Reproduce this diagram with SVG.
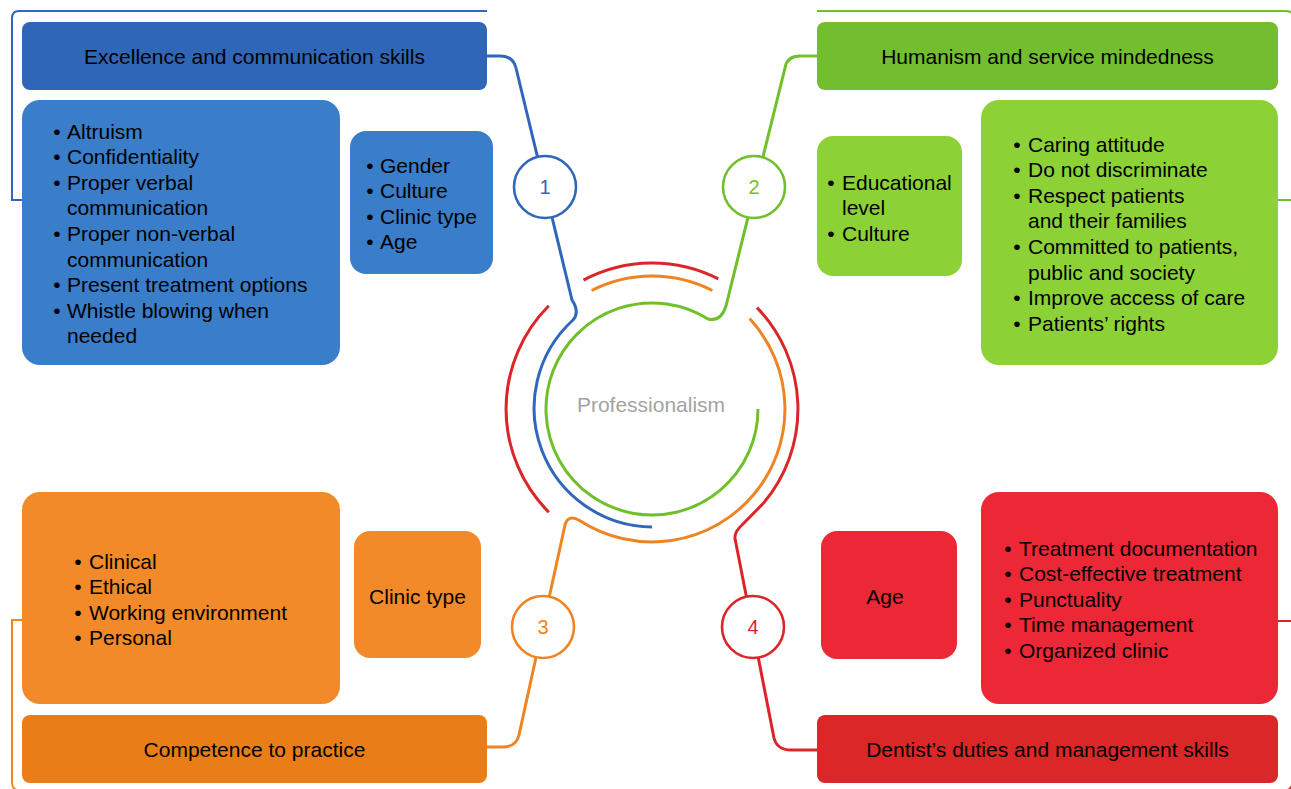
<svg xmlns="http://www.w3.org/2000/svg" width="1291" height="789" viewBox="0 0 1291 789">
  <style>
    .t { font-family: "Liberation Sans", Arial, sans-serif; font-size: 21px; fill: #000; }
    .c { text-anchor: middle; }
    .num { font-family: "Liberation Sans", Arial, sans-serif; font-size: 20px; text-anchor: middle; }
    .ln { fill: none; stroke-width: 3; stroke-linecap: butt; stroke-linejoin: round; }
    .br { fill: none; stroke-width: 2; }
    .blue { stroke: #3067BC; }
    .green { stroke: #72BF2C; }
    .orange { stroke: #EE8422; }
    .red { stroke: #DB2529; }
    .ring { fill: #fff; stroke-width: 2.6; }
  </style>

  <!-- brackets framing each quadrant -->
  <g id="brackets">
    <path class="br blue" d="M22,200 H12 V18 Q12,11 19,11 H487"/>
    <path class="br green" d="M817,11 H1286 Q1294,11 1294,19 V200 H1278"/>
    <path class="br orange" d="M22,620 H12 V782 Q12,790.5 20,790.5 H487"/>
    <path class="br red" d="M1278,621 H1293 V780 Q1293,790.5 1284,790.5 H817"/>
  </g>

  <!-- connectors: rings around the core and links to numbered badges -->
  <g id="connectors">
    <!-- red outer ring pieces -->
    <path class="ln red" d="M583.5,280.1 A146,146 0 0 1 718.3,278.9"/>
    <path class="ln red" d="M548.8,305.8 A146,146 0 0 0 548.8,512.2"/>
    <path class="ln red" d="M757,307.6 A146,146 0 0 1 763.8,502.8 L742,525 Q733,533 735.5,541 L774,738 Q777,750 791,750 H817"/>
    <!-- orange ring pieces -->
    <path class="ln orange" d="M591.6,290.5 A133,133 0 0 1 712.4,290.5"/>
    <path class="ln orange" d="M749.6,318.6 A133,133 0 0 1 579.6,520.5 Q568,514 565,525 L519,735 Q516,747 503,747 H487"/>
    <!-- blue ring -->
    <path class="ln blue" d="M487,56 H500 Q513,56 516,68 L572,300 Q580,312 573,320 A119,119 0 0 0 652,527"/>
    <!-- green inner ring -->
    <path class="ln green" d="M817,56 H800 Q787,56 785,68 L726,306 Q721,322 708,319 A106,106 0 1 0 758,409"/>
  </g>

  <!-- numbered badges -->
  <g id="badge-1">
    <circle class="ring blue" cx="545" cy="187" r="31"/>
    <text class="num" x="545" y="194" fill="#3067BC">1</text>
  </g>
  <g id="badge-2">
    <circle class="ring green" cx="754" cy="187" r="31"/>
    <text class="num" x="754" y="194" fill="#72BF2C">2</text>
  </g>
  <g id="badge-3">
    <circle class="ring orange" cx="543" cy="627" r="31"/>
    <text class="num" x="543" y="634" fill="#EE8422">3</text>
  </g>
  <g id="badge-4">
    <circle class="ring red" cx="753" cy="627" r="31"/>
    <text class="num" x="753" y="634" fill="#DB2529">4</text>
  </g>

  <!-- core -->
  <g id="core">
    <text x="651" y="412" class="c" font-family="Liberation Sans, Arial, sans-serif" font-size="21" fill="#A3A3A3">Professionalism</text>
  </g>

  <!-- quadrant 1: blue -->
  <g id="excellence">
    <rect x="22" y="22" width="465" height="68" rx="8" fill="#3066B8"/>
    <text class="t c" x="254.5" y="63.5">Excellence and communication skills</text>
  </g>
  <g id="excellence-items">
    <rect x="22" y="100" width="318" height="265" rx="18" fill="#3A7DC9"/>
    <text class="t" x="57" y="138.5" text-anchor="middle"><tspan x="57">•</tspan><tspan x="57" dy="25.6">•</tspan><tspan x="57" dy="25.6">•</tspan><tspan x="57" dy="51.2">•</tspan><tspan x="57" dy="51.2">•</tspan><tspan x="57" dy="25.6">•</tspan></text>
    <text class="t" x="67" y="138.5"><tspan x="67">Altruism</tspan><tspan x="67" dy="25.6">Confidentiality</tspan><tspan x="67" dy="25.6">Proper verbal</tspan><tspan x="67" dy="25.6">communication</tspan><tspan x="67" dy="25.6">Proper non-verbal</tspan><tspan x="67" dy="25.6">communication</tspan><tspan x="67" dy="25.6">Present treatment options</tspan><tspan x="67" dy="25.6">Whistle blowing when</tspan><tspan x="67" dy="25.6">needed</tspan></text>
  </g>
  <g id="excellence-factors">
    <rect x="350" y="131" width="143" height="143" rx="16" fill="#3A7DC9"/>
    <text class="t" y="172.5" text-anchor="middle"><tspan x="370">•</tspan><tspan x="370" dy="25.6">•</tspan><tspan x="370" dy="25.6">•</tspan><tspan x="370" dy="25.6">•</tspan></text>
    <text class="t" y="172.5"><tspan x="380">Gender</tspan><tspan x="380" dy="25.6">Culture</tspan><tspan x="380" dy="25.6">Clinic type</tspan><tspan x="380" dy="25.6">Age</tspan></text>
  </g>

  <!-- quadrant 2: green -->
  <g id="humanism">
    <rect x="817" y="22" width="461" height="68" rx="8" fill="#73BE2F"/>
    <text class="t c" x="1047.5" y="63.5">Humanism and service mindedness</text>
  </g>
  <g id="humanism-factors">
    <rect x="817" y="136" width="145" height="140" rx="16" fill="#8CD237"/>
    <text class="t" y="189.5" text-anchor="middle"><tspan x="831">•</tspan><tspan x="831" dy="51.2">•</tspan></text>
    <text class="t" y="189.5"><tspan x="842">Educational</tspan><tspan x="842" dy="25.6">level</tspan><tspan x="842" dy="25.6">Culture</tspan></text>
  </g>
  <g id="humanism-items">
    <rect x="981" y="100" width="297" height="265" rx="18" fill="#8CD237"/>
    <text class="t" y="151.5" text-anchor="middle"><tspan x="1017">•</tspan><tspan x="1017" dy="25.6">•</tspan><tspan x="1017" dy="25.6">•</tspan><tspan x="1017" dy="51.2">•</tspan><tspan x="1017" dy="51.2">•</tspan><tspan x="1017" dy="25.6">•</tspan></text>
    <text class="t" y="151.5"><tspan x="1028">Caring attitude</tspan><tspan x="1028" dy="25.6">Do not discriminate</tspan><tspan x="1028" dy="25.6">Respect patients</tspan><tspan x="1028" dy="25.6">and their families</tspan><tspan x="1028" dy="25.6">Committed to patients,</tspan><tspan x="1028" dy="25.6">public and society</tspan><tspan x="1028" dy="25.6">Improve access of care</tspan><tspan x="1028" dy="25.6">Patients’ rights</tspan></text>
  </g>

  <!-- quadrant 3: orange -->
  <g id="competence-items">
    <rect x="22" y="492" width="318" height="212" rx="18" fill="#F38A29"/>
    <text class="t" y="568.5" text-anchor="middle"><tspan x="78">•</tspan><tspan x="78" dy="25.6">•</tspan><tspan x="78" dy="25.6">•</tspan><tspan x="78" dy="25.6">•</tspan></text>
    <text class="t" y="568.5"><tspan x="89">Clinical</tspan><tspan x="89" dy="25.6">Ethical</tspan><tspan x="89" dy="25.6">Working environment</tspan><tspan x="89" dy="25.6">Personal</tspan></text>
  </g>
  <g id="competence-factors">
    <rect x="354" y="531" width="127" height="127" rx="16" fill="#F38A29"/>
    <text class="t c" x="417.5" y="603.5">Clinic type</text>
  </g>
  <g id="competence">
    <rect x="22" y="715" width="465" height="68" rx="8" fill="#E97E18"/>
    <text class="t c" x="254.5" y="756.5">Competence to practice</text>
  </g>

  <!-- quadrant 4: red -->
  <g id="duties-factors">
    <rect x="821" y="531" width="136" height="128" rx="16" fill="#EC2836"/>
    <text class="t c" x="885" y="603.5">Age</text>
  </g>
  <g id="duties-items">
    <rect x="981" y="492" width="297" height="212" rx="18" fill="#EC2836"/>
    <text class="t" y="555.5" text-anchor="middle"><tspan x="1008">•</tspan><tspan x="1008" dy="25.6">•</tspan><tspan x="1008" dy="25.6">•</tspan><tspan x="1008" dy="25.6">•</tspan><tspan x="1008" dy="25.6">•</tspan></text>
    <text class="t" y="555.5"><tspan x="1019">Treatment documentation</tspan><tspan x="1019" dy="25.6">Cost-effective treatment</tspan><tspan x="1019" dy="25.6">Punctuality</tspan><tspan x="1019" dy="25.6">Time management</tspan><tspan x="1019" dy="25.6">Organized clinic</tspan></text>
  </g>
  <g id="duties">
    <rect x="817" y="715" width="461" height="68" rx="8" fill="#DB2728"/>
    <text class="t c" x="1047.5" y="756.5">Dentist’s duties and management skills</text>
  </g>
</svg>
